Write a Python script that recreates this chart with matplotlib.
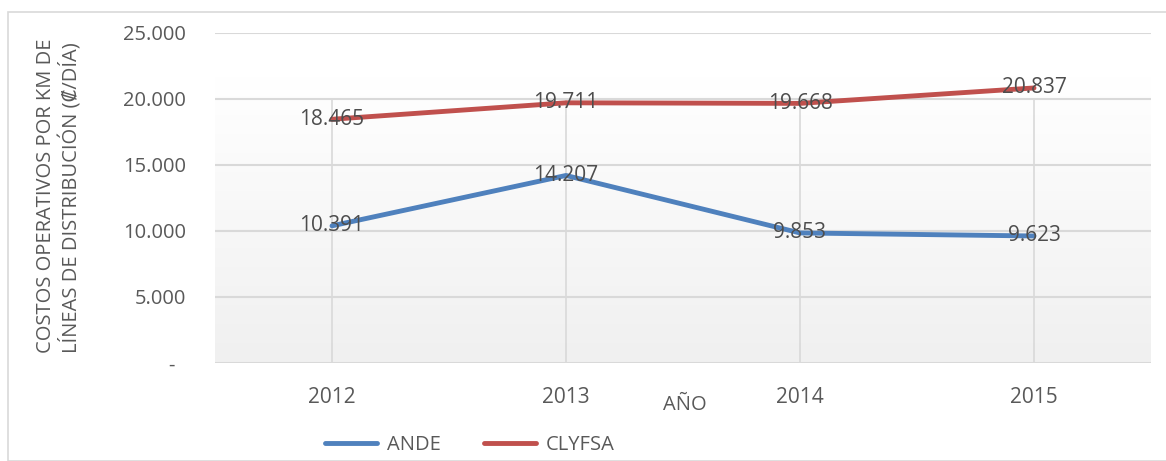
import numpy as np
import matplotlib
matplotlib.use("Agg")
import matplotlib.pyplot as plt
from matplotlib.patches import Rectangle

years = ["2012", "2013", "2014", "2015"]
ande = [10391, 14207, 9853, 9623]
clyfsa = [18465, 19711, 19668, 20837]
labels_ande = ["10.391", "14.207", "9.853", "9.623"]
labels_clyfsa = ["18.465", "19.711", "19.668", "20.837"]
yticks = [0, 5000, 10000, 15000, 20000, 25000]
ytick_labels = ["-  ", "5.000", "10.000", "15.000", "20.000", "25.000"]

plt.rcParams['font.family'] = ['Open Sans', 'DejaVu Sans']

W, H = 1166, 461
fig = plt.figure(figsize=(W / 100, H / 100), dpi=100)
ax = fig.add_axes([215 / W, 1 - 363 / H, 936 / W, 330 / H])

x = np.arange(len(years)) + 0.5
ax.set_xlim(0, 4)
ax.set_ylim(0, 25000)

# gradient background: light gray at the bottom, white towards the top
grad = np.linspace(0.0, 1.0, 256).reshape(-1, 1)
cmap = matplotlib.colors.LinearSegmentedColormap.from_list("g", ["#f0f0f0", "#ffffff"])
ax.imshow(grad, cmap=cmap, aspect="auto", extent=(0, 4, 0, 21700),
          origin="lower", zorder=0)

for yt in yticks:
    ax.axhline(yt, color="#d9d9d9", lw=1.5, zorder=1)
for xi in x:
    ax.plot([xi, xi], [0, 20000], color="#d9d9d9", lw=1.2, zorder=1)

ax.plot(x, ande, color="#4f81bd", lw=3.5, solid_capstyle="round", zorder=3, label="ANDE")
ax.plot(x, clyfsa, color="#c0504d", lw=3.5, solid_capstyle="round", zorder=3, label="CLYFSA")

for xi, v, s in zip(x, ande, labels_ande):
    ax.text(xi, v, s, ha="center", va="center", fontsize=15, color="#4d4d4d", zorder=4)
for xi, v, s in zip(x, clyfsa, labels_clyfsa):
    ax.text(xi, v, s, ha="center", va="center", fontsize=15, color="#4d4d4d", zorder=4)

ax.set_yticks(yticks)
ax.set_yticklabels(ytick_labels)
ax.set_xticks(x)
ax.set_xticklabels(years)
ax.tick_params(axis="both", length=0, labelcolor="#595959")
ax.tick_params(axis="y", pad=21, labelsize=14.5)
ax.tick_params(axis="x", pad=17, labelsize=15)
for sp in ax.spines.values():
    sp.set_visible(False)

fig.text(685 / W, 1 - 405 / H, "AÑO", ha="center", va="center", fontsize=14.5, color="#595959")
fig.text(59 / W, 1 - 196 / H, "COSTOS OPERATIVOS POR KM DE\nLÍNEAS DE DISTRIBUCIÓN (₡/DÍA)",
         rotation=90, ha="center", va="center", fontsize=14.5, color="#595959",
         linespacing=1.2, multialignment="left")

fig.legend(loc="center", bbox_to_anchor=(470 / W, 1 - 445 / H), ncol=2, frameon=False,
           fontsize=14.5, labelcolor="#595959", handlelength=2.6, columnspacing=2.1,
           handletextpad=0.5)

fig.patches.append(Rectangle((8 / W, 0), 1.1, 1 - 12 / H, transform=fig.transFigure,
                             fill=False, edgecolor="#d9d9d9", lw=1.2))

fig.savefig("out.png", dpi=100)
